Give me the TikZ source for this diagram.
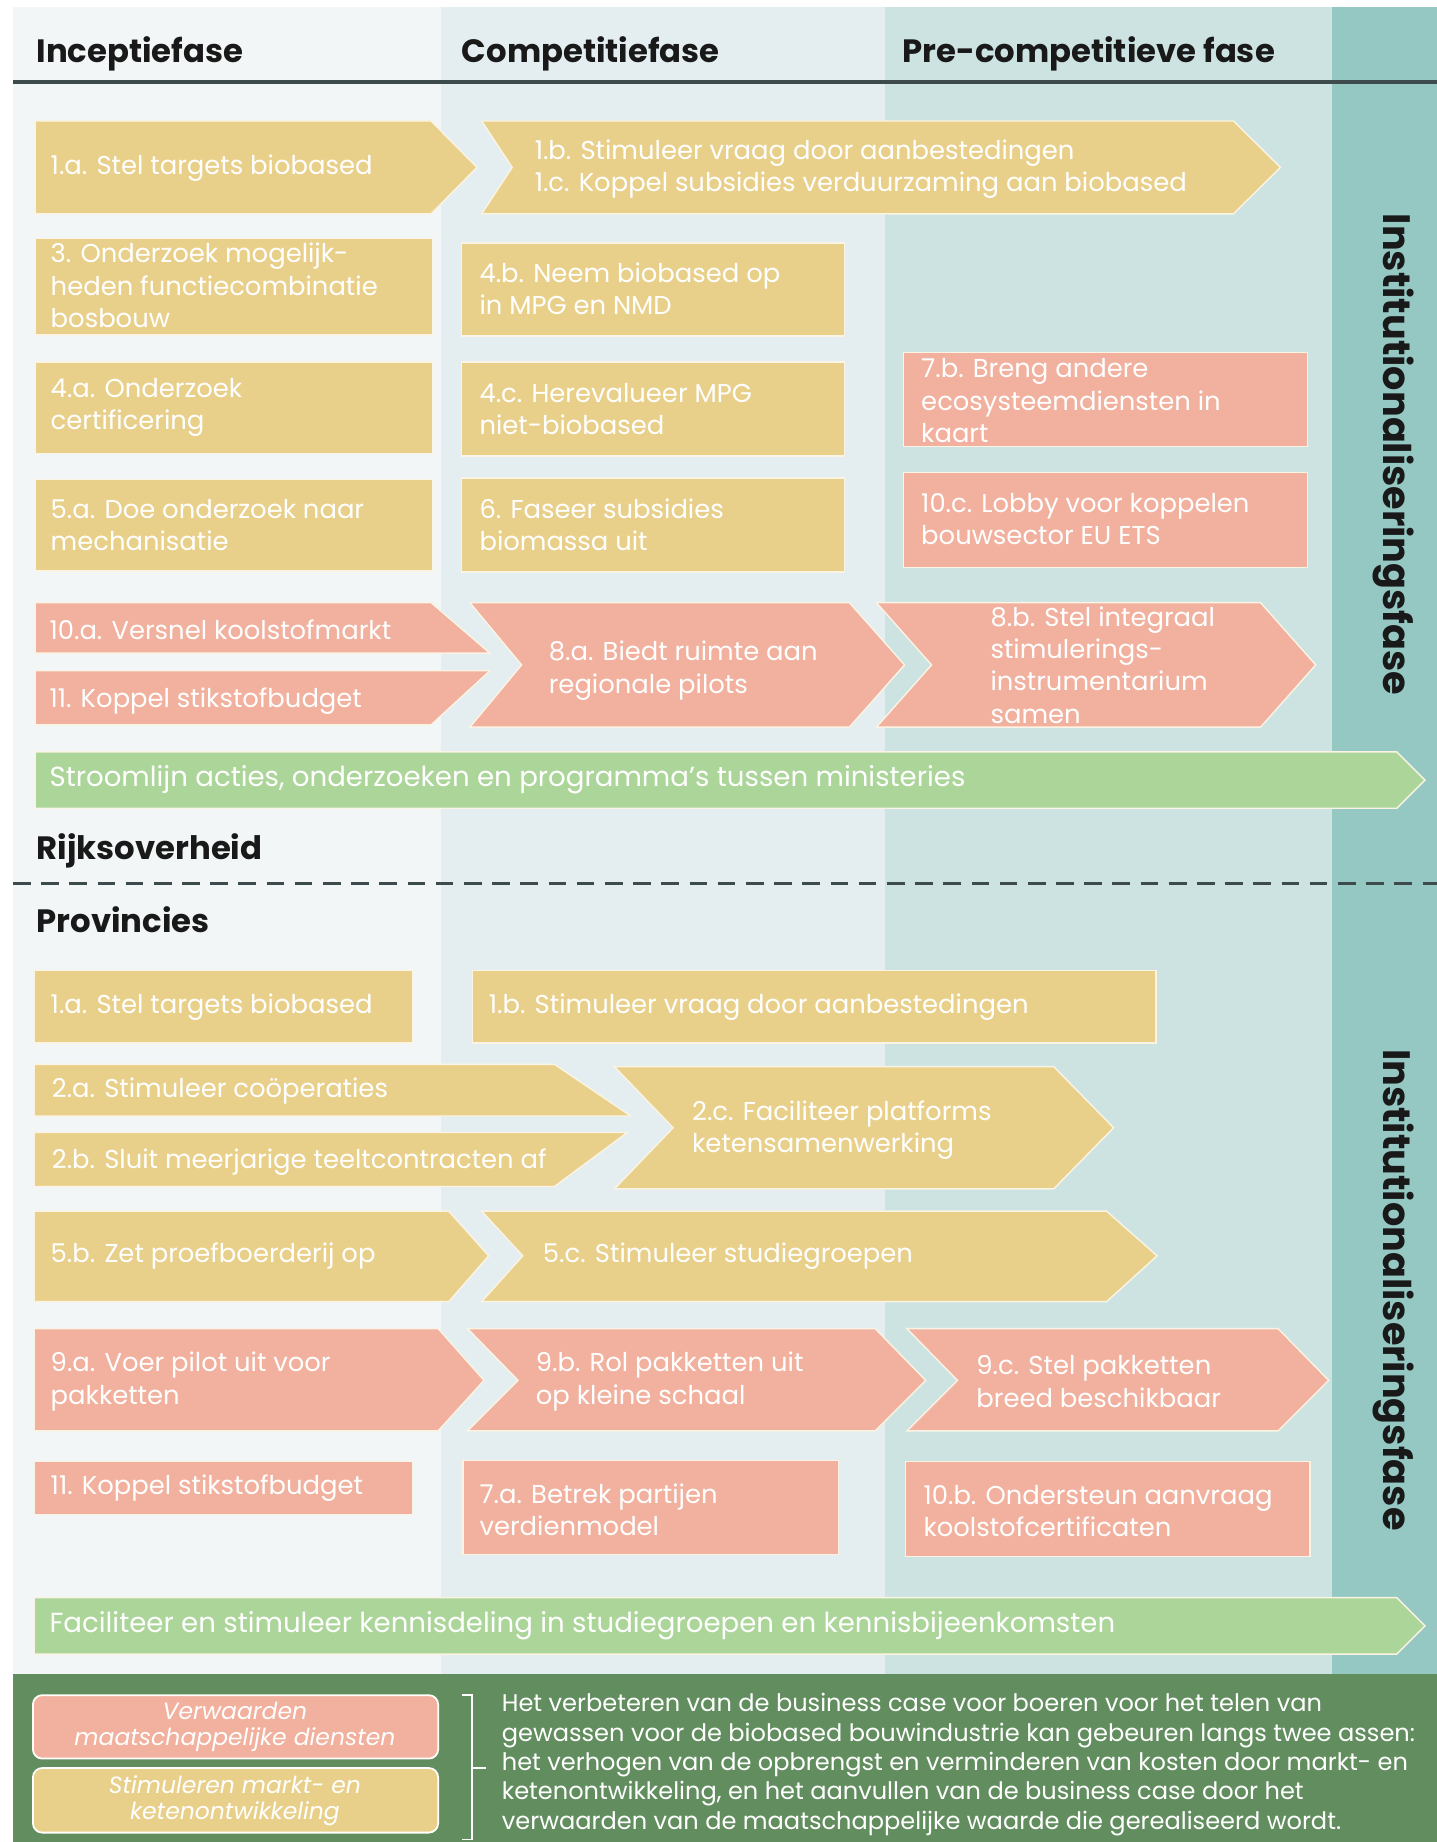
\documentclass[tikz,border=0pt]{standalone}
\usepackage{fontspec}
\setmainfont{Poppins}
\definecolor{colA}{HTML}{F2F6F7}
\definecolor{colB}{HTML}{E4EEF0}
\definecolor{colC}{HTML}{CCE3E2}
\definecolor{colD}{HTML}{95C7C3}
\definecolor{boxyellow}{HTML}{E9D08A}
\definecolor{boxpink}{HTML}{F1B19E}
\definecolor{boxgreen}{HTML}{ACD59A}
\definecolor{boxedge}{HTML}{FBF4E4}
\definecolor{footgreen}{HTML}{628E5F}
\definecolor{headgray}{HTML}{3D4B4D}
\begin{document}
\begin{tikzpicture}[x=1pt, y=-1pt,
    yel/.style={fill=boxyellow, draw=boxedge, line width=1.2pt},
    pnk/.style={fill=boxpink, draw=boxedge, line width=1.2pt},
    grn/.style={fill=boxgreen, draw=boxedge, line width=1.2pt},
    lbl/.style={text=white, font=\fontsize{22}{27.5}\selectfont, align=left, anchor=west, inner sep=0pt},
    lblg/.style={lbl, font=\fontsize{23.5}{27.5}\selectfont},
    phase/.style={text=black!90, font=\bfseries\fontsize{27.5}{30}\selectfont, anchor=west, inner sep=0pt},
    leg/.style={text=white, font=\itshape\fontsize{20}{22.5}\selectfont, align=center, inner sep=0pt},
    inst/.style={rotate=-90, text=black!90, font=\bfseries\fontsize{32.5}{34}\selectfont, inner sep=0pt}]
    \useasboundingbox (0,0) rectangle (1223,1568);

    % column backgrounds
    \fill[white] (0,0) rectangle (1223,1568);
    \fill[colA] (11,6) rectangle (375,1425);
    \fill[colB] (375,6) rectangle (753,1425);
    \fill[colC] (753,6) rectangle (1134,1425);
    \fill[colD] (1134,6) rectangle (1223,1425);
    \fill[footgreen] (11,1425) rectangle (1223,1568);

    % header
    \node[phase] (incep) at (31,46) {Inceptiefase};
    \node[phase] (compet) at (393,46) {Competitiefase};
    \node[phase] (precomp) at (768,46) {Pre-competitieve fase};
    \coordinate (hl) at (11,70);
    \coordinate (hr) at (1223,70);
    \draw[headgray, line width=3pt] (hl) -- (hr);

    % Rijksoverheid
    \draw[yel] (30,103) -- (367,103) -- (406,142.5) -- (367,182) -- (30,182) -- cycle;
    \node[lbl] (r1a) at (43,143) {1.a. Stel targets biobased};
    \draw[yel] (410,103) -- (1050,103) -- (1090,142.5) -- (1050,182) -- (410,182) -- (436,142.5) -- cycle;
    \node[lbl] (r1b) at (455,144) {1.b. Stimuleer vraag door aanbestedingen\\1.c. Koppel subsidies verduurzaming aan biobased};

    \draw[yel] (30,203) rectangle (368,285);
    \node[lbl] (r3) at (43,243) {3. Onderzoek mogelijk-\\heden functiecombinatie\\bosbouw};
    \draw[yel] (393,207) rectangle (719,286);
    \node[lbl] (r4b) at (408,246) {4.b. Neem biobased op\\in MPG en NMD};

    \draw[yel] (30,308) rectangle (368,386);
    \node[lbl] (r4a) at (43,347) {4.a. Onderzoek\\certificering};
    \draw[yel] (393,308) rectangle (719,388);
    \node[lbl] (r4c) at (408,348) {4.c. Herevalueer MPG\\niet-biobased};
    \draw[pnk] (769,300) rectangle (1113,380);
    \node[lbl] (r7b) at (784,341) {7.b. Breng andere\\ecosysteemdiensten in\\kaart};

    \draw[yel] (30,408) rectangle (368,486);
    \node[lbl] (r5a) at (43,447) {5.a. Doe onderzoek naar\\mechanisatie};
    \draw[yel] (393,407) rectangle (719,487);
    \node[lbl] (r6) at (408,447) {6. Faseer subsidies\\biomassa uit};
    \draw[pnk] (769,402) rectangle (1113,483);
    \node[lbl] (r10c) at (784,442) {10.c. Lobby voor koppelen\\bouwsector EU ETS};

    \draw[pnk] (30,513) -- (367,513) -- (417,556) -- (30,556) -- cycle;
    \node[lbl] (r10a) at (42,536) {10.a. Versnel koolstofmarkt};
    \draw[pnk] (30,571) -- (417,571) -- (367,617) -- (30,617) -- cycle;
    \node[lbl] (r11) at (42,597) {11. Koppel stikstofbudget};
    \draw[pnk] (400,513) -- (723,513) -- (770,566) -- (723,619) -- (400,619) -- (444,566) -- cycle;
    \node[lbl] (r8a) at (467,571) {8.a. Biedt ruimte aan\\regionale pilots};
    \draw[pnk] (746,513) -- (1073,513) -- (1120,566) -- (1073,619) -- (746,619) -- (793,566) -- cycle;
    \node[lbl] (r8b) at (843,566) {8.b. Stel integraal\\stimulerings-\\instrumentarium\\samen};

    \draw[grn] (30,640) -- (1189,640) -- (1213,664) -- (1189,688) -- (30,688) -- cycle;
    \node[lblg] (rstroom) at (42,664) {Stroomlijn acties, onderzoeken en programma’s tussen ministeries};

    \node[phase] (rijk) at (31,724) {Rijksoverheid};
    \coordinate (dl) at (11,752);
    \coordinate (dr) at (1223,752);
    \draw[headgray, line width=3pt, dash pattern=on 15pt off 9pt] (dl) -- (dr);
    \node[phase] (prov) at (31,783) {Provincies};

    % Provincies
    \draw[yel] (29,826) rectangle (351,888);
    \node[lbl] (p1a) at (43,857) {1.a. Stel targets biobased};
    \draw[yel] (402,826) rectangle (984,888);
    \node[lbl] (p1b) at (416,857) {1.b. Stimuleer vraag door aanbestedingen};

    \draw[yel] (29,906) -- (472,906) -- (537,950) -- (29,950) -- cycle;
    \node[lbl] (p2a) at (44,929) {2.a. Stimuleer coöperaties};
    \draw[yel] (29,964) -- (534,964) -- (472,1010) -- (29,1010) -- cycle;
    \node[lbl] (p2b) at (44,989) {2.b. Sluit meerjarige teeltcontracten af};
    \draw[yel] (523,908) -- (897,908) -- (948,960) -- (897,1012) -- (523,1012) -- (573,960) -- cycle;
    \node[lbl] (p2c) at (589,962) {2.c. Faciliteer platforms\\ketensamenwerking};

    \draw[yel] (29,1031) -- (382,1031) -- (416,1069) -- (382,1108) -- (29,1108) -- cycle;
    \node[lbl] (p5b) at (43,1069) {5.b. Zet proefboerderij op};
    \draw[yel] (410,1031) -- (942,1031) -- (985,1069) -- (942,1108) -- (410,1108) -- (445,1069) -- cycle;
    \node[lbl] (p5c) at (462,1069) {5.c. Stimuleer studiegroepen};

    \draw[pnk] (29,1131) -- (373,1131) -- (412,1175) -- (373,1218) -- (29,1218) -- cycle;
    \node[lbl] (p9a) at (43,1176) {9.a. Voer pilot uit voor\\pakketten};
    \draw[pnk] (398,1131) -- (745,1131) -- (788,1175) -- (745,1218) -- (398,1218) -- (441,1175) -- cycle;
    \node[lbl] (p9b) at (456,1176) {9.b. Rol pakketten uit\\op kleine schaal};
    \draw[pnk] (772,1131) -- (1088,1131) -- (1131,1175) -- (1088,1218) -- (772,1218) -- (815,1175) -- cycle;
    \node[lbl] (p9c) at (831,1176) {9.c. Stel pakketten\\breed beschikbaar};

    \draw[pnk] (29,1244) rectangle (351,1289);
    \node[lbl] (p11) at (43,1267) {11. Koppel stikstofbudget};
    \draw[pnk] (394,1243) rectangle (714,1323);
    \node[lbl] (p7a) at (408,1285) {7.a. Betrek partijen\\verdienmodel};
    \draw[pnk] (771,1244) rectangle (1115,1325);
    \node[lbl] (p10b) at (786,1286) {10.b. Ondersteun aanvraag\\koolstofcertificaten};

    \draw[grn] (29,1360) -- (1189,1360) -- (1213,1384) -- (1189,1408) -- (29,1408) -- cycle;
    \node[lblg] (pkennis) at (42,1384) {Faciliteer en stimuleer kennisdeling in studiegroepen en kennisbijeenkomsten};

    % right bar
    \node[inst] (instrijk) at (1186,387) {Institutionaliseringsfase};
    \node[inst] (instprov) at (1186,1098) {Institutionaliseringsfase};

    % legend
    \draw[fill=boxpink, draw=white, line width=1.5pt, rounded corners=8pt] (28,1443) rectangle (373,1497);
    \node[leg] (legpink) at (200,1470) {Verwaarden\\maatschappelijke diensten};
    \draw[fill=boxyellow, draw=white, line width=1.5pt, rounded corners=8pt] (28,1505) rectangle (373,1560);
    \node[leg] (legyel) at (200,1533) {Stimuleren markt- en\\ketenontwikkeling};
    \draw[white, line width=1.3pt] (393,1443) -- (402,1443) -- (402,1566) -- (393,1566);
    \draw[white, line width=1.3pt] (402,1505) -- (414,1505);
    \node[text=white, font=\fontsize{20.5}{25}\selectfont, align=left, anchor=west, inner sep=0pt] (uitleg) at (427,1502)
        {Het verbeteren van de business case voor boeren voor het telen van\\
         gewassen voor de biobased bouwindustrie kan gebeuren langs twee assen:\\
         het verhogen van de opbrengst en verminderen van kosten door markt- en\\
         ketenontwikkeling, en het aanvullen van de business case door het\\
         verwaarden van de maatschappelijke waarde die gerealiseerd wordt.};
\end{tikzpicture}
\end{document}
